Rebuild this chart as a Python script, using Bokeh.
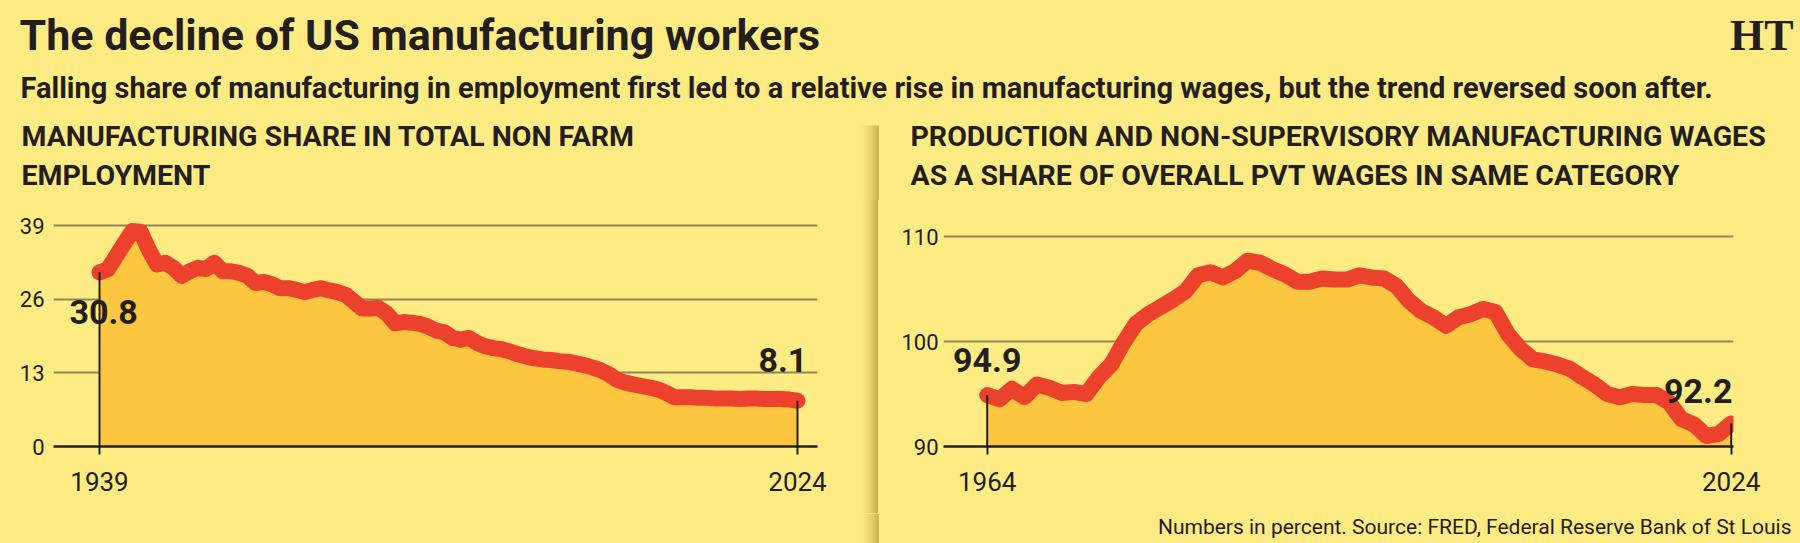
from bokeh.plotting import figure
from bokeh.models import Range1d, Label, FixedTicker, Div
from bokeh.layouts import column, row
from bokeh.embed import file_html
from bokeh.resources import INLINE

# Manufacturing share in total non-farm employment (%), annual
emp_years = list(range(1939, 2025))
emp_share = [
    30.8, 31.3, 33.6, 35.9, 38.1, 38.0, 34.8, 32.2, 32.5, 31.6,
    30.2, 31.0, 31.6, 31.4, 32.5, 31.0, 31.0, 30.7, 30.2, 28.9,
    29.1, 28.7, 28.0, 28.0, 27.7, 27.3, 27.7, 28.0, 27.6, 27.3,
    26.8, 25.6, 24.4, 24.4, 24.5, 23.5, 21.8, 22.0, 21.9, 21.7,
    21.2, 20.5, 20.2, 19.2, 18.9, 19.2, 18.3, 17.7, 17.4, 17.2,
    16.8, 16.3, 15.9, 15.6, 15.4, 15.3, 15.1, 15.0, 14.7, 14.4,
    14.0, 13.5, 12.8, 11.8, 11.3, 11.0, 10.7, 10.4, 10.1, 9.5,
    8.7, 8.7, 8.7, 8.6, 8.6, 8.5, 8.5, 8.5, 8.4, 8.5,
    8.5, 8.4, 8.4, 8.4, 8.3, 8.1,
]
emp_yticks = [0, 13, 26, 39]

# Production & non-supervisory manufacturing wages as share of private wages (%)
wage_years = list(range(1964, 2025))
wage_share = [
    94.9, 94.5, 95.5, 94.7, 95.9, 95.6, 95.1, 95.2, 95.0, 96.6,
    97.8, 99.9, 101.7, 102.6, 103.3, 104.0, 104.8, 106.3, 106.6, 106.1,
    106.7, 107.7, 107.5, 106.9, 106.4, 105.7, 105.7, 106.0, 105.9, 105.9,
    106.3, 106.1, 106.0, 105.3, 103.9, 102.9, 102.3, 101.5, 102.3, 102.6,
    103.1, 102.8, 100.7, 99.3, 98.3, 98.1, 97.8, 97.4, 96.6, 95.9,
    95.0, 94.7, 95.0, 94.9, 94.9, 94.2, 92.6, 92.1, 91.0, 91.2,
    92.2,
]
wage_yticks = [90, 100, 110]

TITLE = "The decline of US manufacturing workers"
SUBTITLE = ("Falling share of manufacturing in employment first led to a relative rise "
            "in manufacturing wages, but the trend reversed soon after.")
LEFT_HEAD = ["MANUFACTURING SHARE IN TOTAL NON FARM", "EMPLOYMENT"]
RIGHT_HEAD = ["PRODUCTION AND NON-SUPERVISORY MANUFACTURING WAGES",
              "AS A SHARE OF OVERALL PVT WAGES IN SAME CATEGORY"]
SOURCE = "Numbers in percent. Source: FRED, Federal Reserve Bank of St Louis"

BG = "#FFEB84"
FILL = "#FDC640"
RED = "#EC412D"
GRID = "#8C8A52"
INK = "#231F20"
FONT = "Roboto"

HEAD_H = 200
PANEL_H = 313
FOOT_H = 30
SHADE_W = 20


def shade_color(i, n=SHADE_W):
    # light-to-dark ramp of the shadow separating the two panels
    lo = (255, 235, 132)
    hi = (200, 174, 82)
    t = (i / (n - 1)) ** 1.6
    c = tuple(int(round(lo[k] * (1 - t) + hi[k] * t)) for k in range(3))
    return "#%02x%02x%02x" % c


def blank(width, height, xr, yr):
    p = figure(width=width, height=height, x_range=xr, y_range=yr,
               output_backend="svg", toolbar_location=None,
               min_border=0, background_fill_color=BG, border_fill_color=BG,
               outline_line_color=None)
    p.axis.visible = False
    p.grid.visible = False
    return p


def shade_strips(p, x0, y0, y1):
    for i in range(SHADE_W):
        p.quad(left=x0 + i, right=x0 + i + 1.3, bottom=y0, top=y1,
               fill_color=shade_color(i), line_color=None)


def text(p, x, y, s, size, bold=True, align="left", font=FONT):
    p.add_layout(Label(x=x, y=y, text=s, text_font=font,
                       text_font_style="bold" if bold else "normal",
                       text_font_size=size, text_color=INK, text_align=align,
                       text_baseline="middle"))


# ---- header: headline, standfirst, masthead, panel headings ----
head = blank(1800, HEAD_H, Range1d(0, 1800), Range1d(HEAD_H, 0))
shade_strips(head, 858, 125, HEAD_H)
text(head, 19, 34, TITLE, "43px")
text(head, 20, 87, SUBTITLE, "29px")
text(head, 1793, 35, "HT", "44px", align="right", font="Liberation Serif")
for i, line in enumerate(LEFT_HEAD):
    text(head, 21, 136 + 39 * i, line, "28.5px")
for i, line in enumerate(RIGHT_HEAD):
    text(head, 910, 136 + 39 * i, line, "28.5px")


def panel(xs, ys, base, yticks, width, height, mb_left, mb_right, mb_bottom,
          x0_px, px_per_year, px_per_unit, y_standoff):
    frame_w = width - mb_left - mb_right
    frame_h = height - mb_bottom
    # map the first year to x0_px inside the frame
    x_start = xs[0] - x0_px / px_per_year
    x_end = x_start + frame_w / px_per_year
    y_end = base + frame_h / px_per_unit
    p = figure(width=width, height=height,
               x_range=Range1d(x_start, x_end), y_range=Range1d(base, y_end),
               output_backend="svg", toolbar_location=None,
               min_border_left=mb_left, min_border_right=mb_right,
               min_border_top=0, min_border_bottom=mb_bottom,
               background_fill_color=BG, border_fill_color=BG,
               outline_line_color=None)
    p.varea(x=xs, y1=base, y2=ys, fill_color=FILL)
    p.line(xs, ys, line_color=RED, line_width=16, line_join="round", line_cap="round")
    p.segment(x0=[xs[0], xs[-1]], y0=[ys[0], ys[-1]], x1=[xs[0], xs[-1]], y1=[base, base],
              line_color=INK, line_width=2)

    p.xgrid.visible = False
    p.ygrid.ticker = FixedTicker(ticks=yticks)
    p.ygrid.grid_line_color = GRID
    p.ygrid.grid_line_width = 2

    xa = p.xaxis[0]
    xa.ticker = FixedTicker(ticks=[xs[0], xs[-1]])
    xa.axis_line_color = INK
    xa.axis_line_width = 2.5
    xa.major_tick_line_color = INK
    xa.major_tick_line_width = 2
    xa.major_tick_in = 0
    xa.major_tick_out = 8
    xa.minor_tick_line_color = None
    xa.major_label_standoff = 17
    xa.major_label_text_font = FONT
    xa.major_label_text_font_size = "26px"
    xa.major_label_text_color = INK

    ya = p.yaxis[0]
    ya.ticker = FixedTicker(ticks=yticks)
    ya.axis_line_color = None
    ya.major_tick_line_color = None
    ya.minor_tick_line_color = None
    ya.major_tick_in = 0
    ya.major_tick_out = 0
    ya.major_label_standoff = y_standoff
    ya.major_label_text_font = FONT
    ya.major_label_text_font_size = "22px"
    ya.major_label_text_color = INK
    return p


EMP_PX_YEAR = 698 / 85
EMP_PX_UNIT = 75 / 13
WAGE_PX_YEAR = 12.4
WAGE_PX_UNIT = 10.5

left = panel(emp_years, emp_share, 0, emp_yticks, 858, PANEL_H, 53, 41, PANEL_H - 251,
             46, EMP_PX_YEAR, EMP_PX_UNIT, 9)
right = panel(wage_years, wage_share, 90, wage_yticks, 920, PANEL_H, 63, 67, PANEL_H - 246,
              43.7, WAGE_PX_YEAR, WAGE_PX_UNIT, 5)

vfont = dict(text_font=FONT, text_font_style="bold", text_font_size="34px",
             text_color=INK, text_baseline="middle")
# start / end values
left.add_layout(Label(x=emp_years[0] + 0.5, y=emp_share[0] - 40 / EMP_PX_UNIT,
                      text=f"{emp_share[0]}", text_align="center", **vfont))
left.add_layout(Label(x=emp_years[-1] + 1.2, y=emp_share[-1] + 42 / EMP_PX_UNIT,
                      text=f"{emp_share[-1]}", text_align="right", **vfont))
right.add_layout(Label(x=wage_years[0], y=wage_share[0] + 35 / WAGE_PX_UNIT,
                       text=f"{wage_share[0]}", text_align="center", **vfont))
right.add_layout(Label(x=wage_years[-1] + 0.1, y=wage_share[-1] + 32 / WAGE_PX_UNIT,
                       text=f"{wage_share[-1]}", text_align="right", **vfont))

stops = ", ".join(f"{shade_color(i)} {i}px, {shade_color(i)} {i + 1}px" for i in range(SHADE_W))
divider = Div(text="", width=22, height=PANEL_H, margin=0,
              styles={"background": f"linear-gradient(to right, {stops}, {BG} {SHADE_W}px, {BG} 22px)",
                      "padding": "0px"})

foot = blank(1800, FOOT_H, Range1d(0, 1800), Range1d(FOOT_H, 0))
shade_strips(foot, 858, 0, FOOT_H)
text(foot, 1791, 13, SOURCE, "21px", bold=False, align="right")

bg_style = {"background-color": BG}
page = column(head, row(left, divider, right, styles=bg_style), foot, styles=bg_style)
open("out.html", "w").write(file_html(page, INLINE))
